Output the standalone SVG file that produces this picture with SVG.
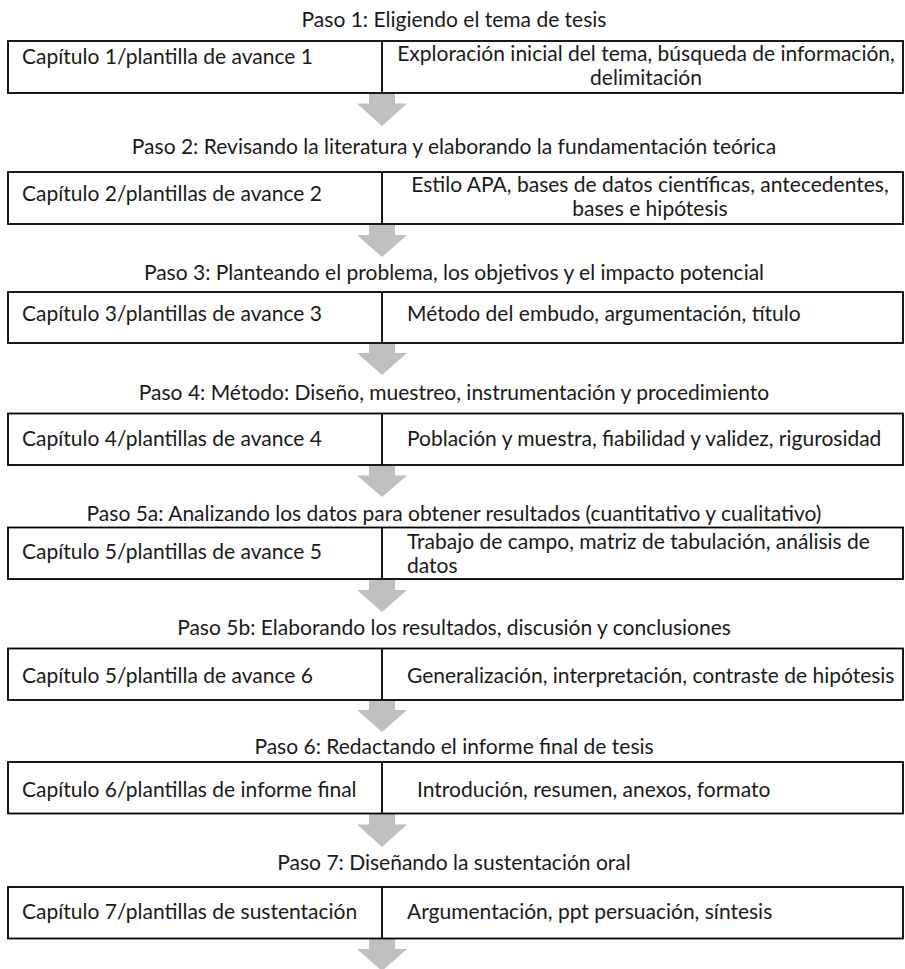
<svg xmlns="http://www.w3.org/2000/svg" width="905" height="969" viewBox="0 0 905 969">
<style>
text{font-family:Lato,"Liberation Sans",sans-serif;font-size:21px;fill:#1a1a1a}
.t{text-anchor:middle}
.c{text-anchor:middle}
.box{fill:#fff;stroke:#000;stroke-width:1.8}
.div{stroke:#000;stroke-width:1.8}
.arr{fill:#bfbfbf}
</style>
<rect width="905" height="969" fill="#fff"/>
<g id="connectors">
<polygon class="arr" points="369,94 395,94 395,103.5 407,103.5 382,126 357,103.5 369,103.5"/>
<polygon class="arr" points="369,225 395,225 395,235 407,235 382,257 357,235 369,235"/>
<polygon class="arr" points="369,344 395,344 395,353 407,353 382,375 357,353 369,353"/>
<polygon class="arr" points="369,466 395,466 395,475.5 407,475.5 382,497 357,475.5 369,475.5"/>
<polygon class="arr" points="369,580 395,580 395,590 407,590 382,612 357,590 369,590"/>
<polygon class="arr" points="369,701 395,701 395,710 407,710 382,732 357,710 369,710"/>
<polygon class="arr" points="369,814 395,814 395,824.5 407,824.5 382,847 357,824.5 369,824.5"/>
<polygon class="arr" points="369,939 395,939 395,949 407,949 382,971 357,949 369,949"/>
</g>
<g id="paso1">
<text class="t" x="454" y="27">Paso 1: Eligiendo el tema de tesis</text>
<rect class="box" x="8" y="41" width="895" height="52"/>
<line class="div" x1="382" y1="41" x2="382" y2="93"/>
<text x="22" y="64">Capítulo 1/plantilla de avance 1</text>
<text class="c" x="646" y="61">Exploración inicial del tema, búsqueda de información,</text>
<text class="c" x="646" y="85">delimitación</text>
</g>
<g id="paso2">
<text class="t" x="454" y="154">Paso 2: Revisando la literatura y elaborando la fundamentación teórica</text>
<rect class="box" x="8" y="172" width="895" height="52"/>
<line class="div" x1="382" y1="172" x2="382" y2="224"/>
<text x="22" y="201">Capítulo 2/plantillas de avance 2</text>
<text class="c" x="650" y="192">Estilo APA, bases de datos científicas, antecedentes,</text>
<text class="c" x="650" y="216">bases e hipótesis</text>
</g>
<g id="paso3">
<text class="t" x="454" y="280">Paso 3: Planteando el problema, los objetivos y el impacto potencial</text>
<rect class="box" x="8" y="292" width="895" height="51"/>
<line class="div" x1="382" y1="292" x2="382" y2="343"/>
<text x="22" y="321">Capítulo 3/plantillas de avance 3</text>
<text x="407" y="321">Método del embudo, argumentación, título</text>
</g>
<g id="paso4">
<text class="t" x="454" y="400">Paso 4: Método: Diseño, muestreo, instrumentación y procedimiento</text>
<rect class="box" x="8" y="413.5" width="895" height="51.5"/>
<line class="div" x1="382" y1="413.5" x2="382" y2="465"/>
<text x="22" y="446">Capítulo 4/plantillas de avance 4</text>
<text x="407" y="446">Población y muestra, fiabilidad y validez, rigurosidad</text>
</g>
<g id="paso5a">
<text class="t" x="454" y="521">Paso 5a: Analizando los datos para obtener resultados (cuantitativo y cualitativo)</text>
<rect class="box" x="8" y="527.5" width="895" height="51.5"/>
<line class="div" x1="382" y1="527.5" x2="382" y2="579"/>
<text x="22" y="558.5">Capítulo 5/plantillas de avance 5</text>
<text x="407" y="549">Trabajo de campo, matriz de tabulación, análisis de</text>
<text x="407" y="573">datos</text>
</g>
<g id="paso5b">
<text class="t" x="454" y="635">Paso 5b: Elaborando los resultados, discusión y conclusiones</text>
<rect class="box" x="8" y="648.5" width="895" height="51.5"/>
<line class="div" x1="382" y1="648.5" x2="382" y2="700"/>
<text x="22" y="682.5">Capítulo 5/plantilla de avance 6</text>
<text x="407" y="682.5">Generalización, interpretación, contraste de hipótesis</text>
</g>
<g id="paso6">
<text class="t" x="454" y="754">Paso 6: Redactando el informe final de tesis</text>
<rect class="box" x="8" y="762" width="895" height="51.5"/>
<line class="div" x1="382" y1="762" x2="382" y2="813.5"/>
<text x="22" y="796.5">Capítulo 6/plantillas de informe final</text>
<text x="417" y="796.5">Introdución, resumen, anexos, formato</text>
</g>
<g id="paso7">
<text class="t" x="454" y="870">Paso 7: Diseñando la sustentación oral</text>
<rect class="box" x="8" y="887" width="895" height="51.5"/>
<line class="div" x1="382" y1="887" x2="382" y2="938.5"/>
<text x="22" y="918.5">Capítulo 7/plantillas de sustentación</text>
<text x="407" y="918.5">Argumentación, ppt persuación, síntesis</text>
</g>
</svg>
